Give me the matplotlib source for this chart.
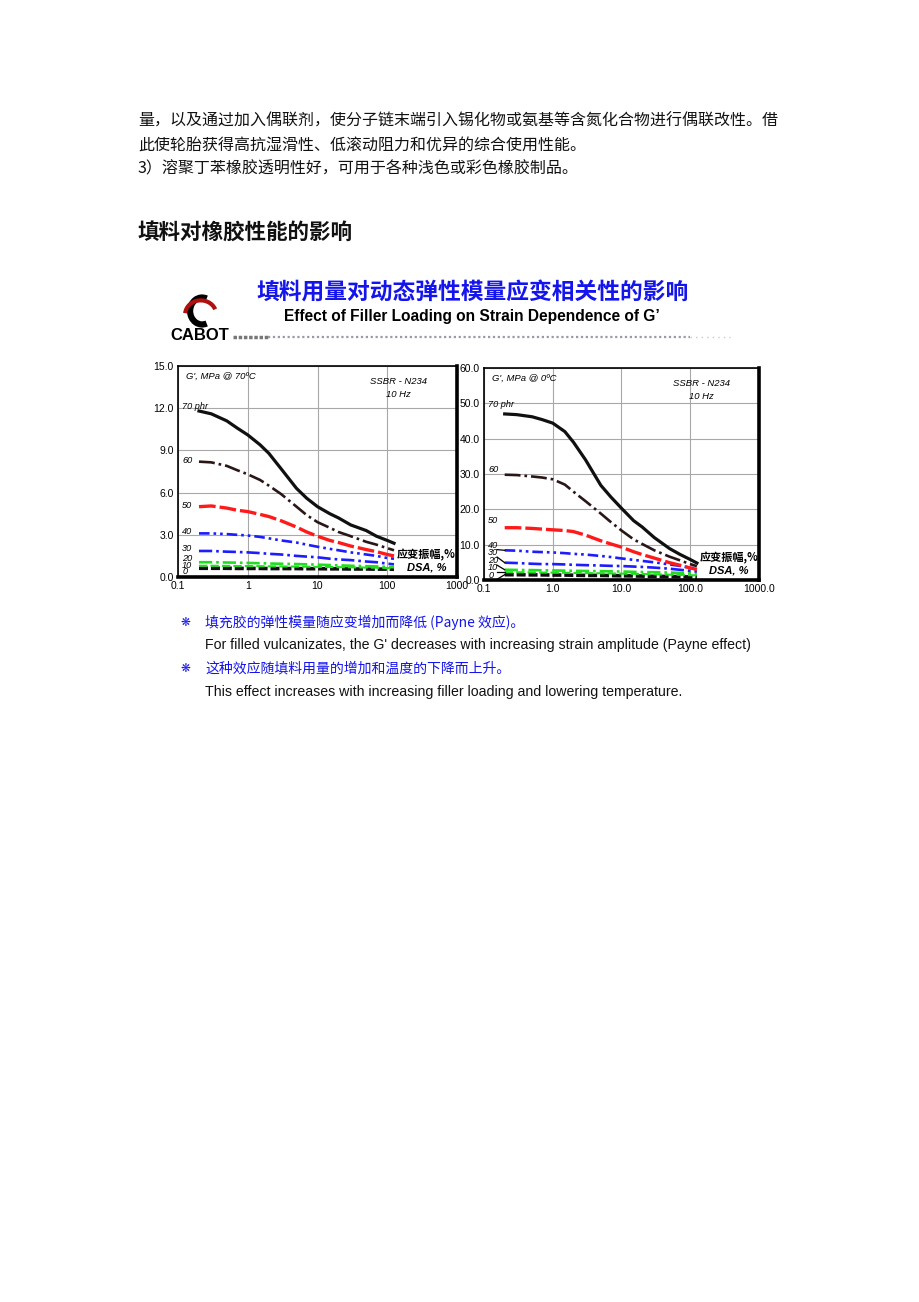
import numpy as np
import matplotlib
matplotlib.use("Agg")
import matplotlib.pyplot as plt
from matplotlib.patches import Arc
from matplotlib.lines import Line2D
from matplotlib.ticker import NullLocator

plt.rcParams['font.family'] = ['Noto Sans CJK SC', 'DejaVu Sans']

# ---- data ----
strain = [0.2, 0.3, 0.5, 0.7, 1, 1.5, 2, 3, 5, 7, 10, 15, 20, 30, 50, 70, 100, 125]
loadings = ["70", "60", "50", "40", "30", "20", "10", "0"]

# G' (MPa) at 70 C
g70 = {
    "70": [11.8, 11.6, 11.1, 10.6, 10.1, 9.4, 8.8, 7.7, 6.3, 5.6, 5.0, 4.5, 4.2, 3.7, 3.3, 2.9, 2.6, 2.4],
    "60": [8.2, 8.15, 7.9, 7.6, 7.3, 6.9, 6.5, 5.9, 5.0, 4.4, 3.9, 3.5, 3.2, 2.9, 2.5, 2.3, 2.05, 1.9],
    "50": [5.0, 5.05, 4.9, 4.75, 4.65, 4.45, 4.3, 4.0, 3.55, 3.2, 2.9, 2.6, 2.45, 2.2, 1.95, 1.8, 1.6, 1.5],
    "40": [3.1, 3.1, 3.05, 3.0, 2.95, 2.85, 2.75, 2.6, 2.45, 2.3, 2.15, 2.0, 1.9, 1.75, 1.6, 1.5, 1.35, 1.3],
    "30": [1.85, 1.85, 1.8, 1.78, 1.75, 1.7, 1.65, 1.6, 1.5, 1.45, 1.4, 1.3, 1.25, 1.2, 1.1, 1.05, 0.95, 0.9],
    "20": [1.05, 1.05, 1.03, 1.02, 1.0, 0.98, 0.96, 0.94, 0.92, 0.9, 0.88, 0.85, 0.83, 0.8, 0.77, 0.75, 0.72, 0.7],
    "10": [0.8, 0.8, 0.79, 0.78, 0.78, 0.77, 0.76, 0.75, 0.74, 0.73, 0.72, 0.71, 0.7, 0.69, 0.67, 0.66, 0.64, 0.62],
    "0":  [0.62, 0.62, 0.62, 0.61, 0.61, 0.61, 0.6, 0.6, 0.6, 0.59, 0.59, 0.58, 0.58, 0.57, 0.57, 0.56, 0.56, 0.55],
}
# G' (MPa) at 0 C
g0 = {
    "70": [47.0, 46.8, 46.2, 45.4, 44.4, 42.0, 39.0, 34.0, 26.8, 23.5, 20.3, 16.8, 15.0, 12.0, 8.9, 7.3, 5.8, 4.8],
    "60": [29.8, 29.7, 29.3, 29.0, 28.5, 27.0, 25.0, 22.3, 18.8, 16.4, 14.0, 11.5, 10.2, 8.4, 6.6, 5.6, 4.5, 3.9],
    "50": [14.8, 14.8, 14.6, 14.4, 14.2, 14.0, 13.7, 12.7, 11.1, 10.2, 9.3, 8.0, 7.2, 6.2, 4.9, 4.2, 3.4, 3.0],
    "40": [8.4, 8.3, 8.0, 7.9, 7.8, 7.6, 7.4, 7.2, 6.8, 6.5, 6.1, 5.7, 5.4, 5.0, 4.4, 4.0, 3.5, 3.2],
    "30": [4.9, 4.8, 4.6, 4.5, 4.5, 4.4, 4.3, 4.2, 4.1, 4.0, 3.95, 3.8, 3.7, 3.5, 3.2, 2.9, 2.6, 2.4],
    "20": [2.9, 2.85, 2.8, 2.75, 2.7, 2.65, 2.6, 2.55, 2.5, 2.45, 2.4, 2.3, 2.25, 2.2, 2.1, 2.0, 1.9, 1.8],
    "10": [2.2, 2.2, 2.15, 2.1, 2.1, 2.05, 2.0, 1.95, 1.9, 1.85, 1.8, 1.75, 1.7, 1.6, 1.5, 1.45, 1.35, 1.3],
    "0":  [1.5, 1.5, 1.45, 1.45, 1.4, 1.4, 1.35, 1.3, 1.3, 1.25, 1.2, 1.15, 1.1, 1.05, 1.0, 0.95, 0.85, 0.8],
}

labels_70 = {"70": 12.15, "60": 8.25, "50": 5.05, "40": 3.27, "30": 2.06, "20": 1.35, "10": 0.85, "0": 0.36}
labels_0 = {"70": 49.8, "60": 31.4, "50": 16.7, "40": 9.8, "30": 7.7, "20": 5.4, "10": 3.4, "0": 1.4}

xticks = [0.1, 1, 10, 100, 1000]
xt_left = ["0.1", "1", "10", "100", "1000"]
xt_right = ["0.1", "1.0", "10.0", "100.0", "1000.0"]
yt_left = [0, 3, 6, 9, 12, 15]
yt_right = [0, 10, 20, 30, 40, 50, 60]

styles = {
    "70": dict(color="#101010", ls="-", lw=2.3),
    "60": dict(color="#2a1616", ls=(0, (6, 1.5, 1, 1.5)), lw=1.9),
    "50": dict(color="#ff1a1a", ls=(0, (5, 1.2)), lw=2.4),
    "40": dict(color="#1c1cff", ls=(0, (4, 1.5, 1, 1.5, 1, 1.5)), lw=1.9),
    "30": dict(color="#1c1cff", ls=(0, (5, 1.5, 1, 1.5)), lw=1.9),
    "20": dict(color="#20dd20", ls=(0, (5, 1.5, 1, 1.5)), lw=1.9),
    "10": dict(color="#20dd20", ls=(0, (4, 1.5)), lw=1.5),
    "0":  dict(color="#101010", ls=(0, (2.5, 0.8)), lw=2.6),
}

W, H = 920, 1302
fig = plt.figure(figsize=(W / 100, H / 100), dpi=100)
fig.patch.set_facecolor("white")


def px(x, y):
    return x / W, 1 - y / H


body = "#111111"
blue = "#1414ee"
cjk = ['Noto Sans CJK SC', 'DejaVu Sans']
lat = ['Liberation Sans', 'DejaVu Sans']

# page text
fig.text(*px(138, 121), "量，以及通过加入偶联剂，使分子链末端引入锡化物或氨基等含氮化合物进行偶联改性。借",
         fontsize=11.5, color=body, va="center", family=cjk)
fig.text(*px(138, 145), "此使轮胎获得高抗湿滑性、低滚动阻力和优异的综合使用性能。",
         fontsize=11.5, color=body, va="center", family=cjk)
fig.text(*px(138, 169), "3）溶聚丁苯橡胶透明性好，可用于各种浅色或彩色橡胶制品。",
         fontsize=11.5, color=body, va="center", family=cjk)
fig.text(*px(138, 232), "填料对橡胶性能的影响", fontsize=15.5, fontweight="bold",
         color=body, va="center", family=cjk)

# chart header
fig.text(*px(473, 293), "填料用量对动态弹性模量应变相关性的影响", fontsize=16.4, fontweight="bold",
         color=blue, ha="center", va="center", family=cjk)
fig.text(*px(472, 316), "Effect of Filler Loading on Strain Dependence of G’", fontsize=11.2,
         fontweight="bold", color="black", ha="center", va="center", family=lat)
fig.text(*px(200, 335), "CABOT", fontsize=12, fontweight="bold", color="black",
         ha="center", va="center", family=lat)

# logo
lax = fig.add_axes([183 / W, 1 - 328 / H, 34 / W, 34 / H])
lax.set_xlim(-1.2, 1.2)
lax.set_ylim(-1.2, 1.2)
lax.axis("off")
lax.add_patch(Arc((0.15, 0), 1.7, 1.9, theta1=70, theta2=290, lw=4.5, color="black"))
lax.add_patch(Arc((0.05, -0.25), 2.2, 2.0, theta1=20, theta2=175, lw=3.0, color="#b01010"))

# faded strip after the logo
fig.add_artist(Line2D([233 / W, 268 / W], [1 - 337 / H] * 2, color="#777777", lw=2.5,
                      ls=(0, (1, 0.5))))
fig.add_artist(Line2D([268 / W, 690 / W], [1 - 337 / H] * 2, color="#9a9aa8", lw=1.6,
                      ls=(0, (1, 1.2))))
fig.add_artist(Line2D([690 / W, 730 / W], [1 - 337 / H] * 2, color="#c8c8d0", lw=1.0,
                      ls=(0, (1, 3))))


def panel(rect, data, lab_y, ylim, yt, xt_lab, head, leaders):
    ax = fig.add_axes(rect)
    ax.set_xscale("log")
    ax.set_xlim(0.1, 1000)
    ax.set_ylim(*ylim)
    ax.set_xticks(xticks)
    ax.set_xticklabels(xt_lab)
    ax.xaxis.set_minor_locator(NullLocator())
    ax.set_yticks(yt)
    ax.set_yticklabels([f"{v:.1f}" for v in yt])
    ax.tick_params(length=0, labelsize=7.5, pad=3)
    for t in ax.get_xticklabels() + ax.get_yticklabels():
        t.set_family(lat)
    ax.grid(True, color="#a8a8a8", lw=0.8)
    ax.set_axisbelow(True)
    for s in ("left", "top"):
        ax.spines[s].set_linewidth(1.2)
    for s in ("right", "bottom"):
        ax.spines[s].set_linewidth(2.6)
    for k in loadings[::-1]:
        ax.plot(strain, data[k], **styles[k])
    for k in loadings:
        txt = k + " phr" if k == "70" else k
        ax.text(0.115, lab_y[k], txt, fontsize=6.6, style="italic", va="center",
                family=lat)
        if leaders and k in ("40", "30", "20", "10", "0"):
            ax.plot([0.155, strain[0]], [lab_y[k] - 0.02 * ylim[1], data[k][0]],
                    color="black", lw=0.9)
    ax.text(0.03, 0.95, head, transform=ax.transAxes, fontsize=6.8, style="italic",
            va="center", family=lat)
    ax.text(0.79, 0.925, "SSBR - N234", transform=ax.transAxes, fontsize=6.8,
            style="italic", ha="center", va="center", family=lat)
    ax.text(0.79, 0.865, "10 Hz", transform=ax.transAxes, fontsize=6.8,
            style="italic", ha="center", va="center", family=lat)
    ax.text(0.89, 0.105, "应变振幅,%", transform=ax.transAxes, fontsize=8,
            fontweight="bold", ha="center", va="center", family=cjk)
    ax.text(0.89, 0.045, "DSA, %", transform=ax.transAxes, fontsize=8,
            fontweight="bold", style="italic", ha="center", va="center", family=lat)
    return ax


panel([178 / W, 1 - 577 / H, (457 - 178) / W, (577 - 366) / H], g70, labels_70,
      (0, 15), yt_left, xt_left, "G', MPa @ 70ºC", False)
panel([484 / W, 1 - 580 / H, (759 - 484) / W, (580 - 368) / H], g0, labels_0,
      (0, 60), yt_right, xt_right, "G', MPa @ 0ºC", True)

# bullets
for yy in (622, 668):
    fig.text(*px(185, yy), "❋", fontsize=8.5, color=blue, ha="center", va="center",
             family=['DejaVu Sans'])
fig.text(*px(205, 622), "填充胶的弹性模量随应变增加而降低 (Payne 效应)。", fontsize=10,
         color=blue, va="center", family=cjk)
fig.text(*px(205, 645), "For filled vulcanizates, the G' decreases with increasing strain amplitude (Payne effect)",
         fontsize=10.2, color=body, va="center", family=lat)
fig.text(*px(205, 668), "这种效应随填料用量的增加和温度的下降而上升。", fontsize=10,
         color=blue, va="center", family=cjk)
fig.text(*px(205, 692), "This effect increases with increasing filler loading and lowering temperature.",
         fontsize=10.2, color=body, va="center", family=lat)

fig.savefig("out.png", dpi=100, facecolor="white")
